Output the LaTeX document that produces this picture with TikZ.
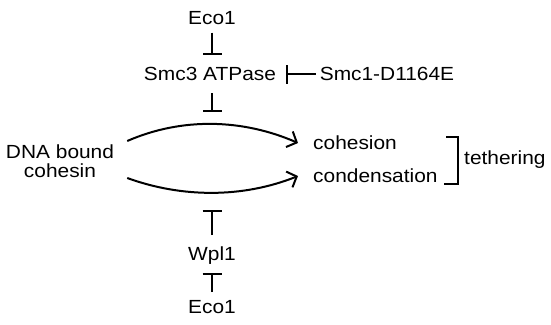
\documentclass[tikz,border=0pt]{standalone}
\usepackage{fontspec}
\setmainfont{Liberation Sans}
\usetikzlibrary{arrows.meta}
\begin{document}
\begin{tikzpicture}[x=1pt,y=-1pt,
  lbl/.style={inner sep=0pt, font=\fontsize{19}{18}\selectfont, xscale=1.1,
              text height=13.6pt, text depth=0pt},
  twoline/.style={inner sep=0pt, font=\fontsize{19}{18.5}\selectfont, xscale=1.1,
              align=center},
  act/.style={line width=2pt, -{Straight Barb[length=8pt,width=17pt,line width=2pt]}},
  inh/.style={line width=2pt, -{Bar[width=19pt,line width=2pt]}},
  brk/.style={line width=2pt}]
\useasboundingbox (0,0) rectangle (551,324);

% labels
\node[lbl] (eco1)  at (212,18)  {Eco1};
\node[lbl] (smc3)  at (210,74)  {Smc3 ATPase};
\node[lbl] (smc1)  at (387,74)  {Smc1-D1164E};
\node[twoline] (dna) at (60,161) {DNA bound\\cohesin};
\node[lbl, anchor=west] (coh)  at (313,143) {cohesion};
\node[lbl, anchor=west] (cond) at (313,176) {condensation};
\node[lbl, anchor=west] (teth) at (464,158) {tethering};
\node[lbl] (wpl1)  at (212,254) {Wpl1};
\node[lbl] (eco1b) at (212,307) {Eco1};

% the two curved activation arrows
\draw[act] ([shift={(13,-20)}]dna.east)
  .. controls +(55,-24) and +(-55,-24) .. coordinate[pos=0.5] (up)
  ([xshift=-15pt]coh.west);
\draw[act] ([shift={(13,17)}]dna.east)
  .. controls +(55,20) and +(-55,22) .. coordinate[pos=0.5] (lo)
  ([xshift=-15pt]cond.west);

% inhibitions
\draw[inh, shorten <=7.5pt, shorten >=12pt] (eco1.south) -- (eco1.south |- smc3.north);
\draw[inh, shorten <=12pt, shorten >=12pt] (eco1.south |- smc3.south) -- (eco1.south |- up);
\draw[inh, shorten <=4pt, shorten >=10pt] (smc1.west) -- (smc3.east);
\draw[inh, shorten <=12pt, shorten >=17pt] (wpl1.north) -- (wpl1.north |- lo);
\draw[inh, shorten <=8pt, shorten >=12pt] (eco1b.north) -- (wpl1.south);

% bracket grouping cohesion and condensation
\draw[brk] (446,137) -- (458,137) -- (458,184) -- (444,184);
\end{tikzpicture}
\end{document}
